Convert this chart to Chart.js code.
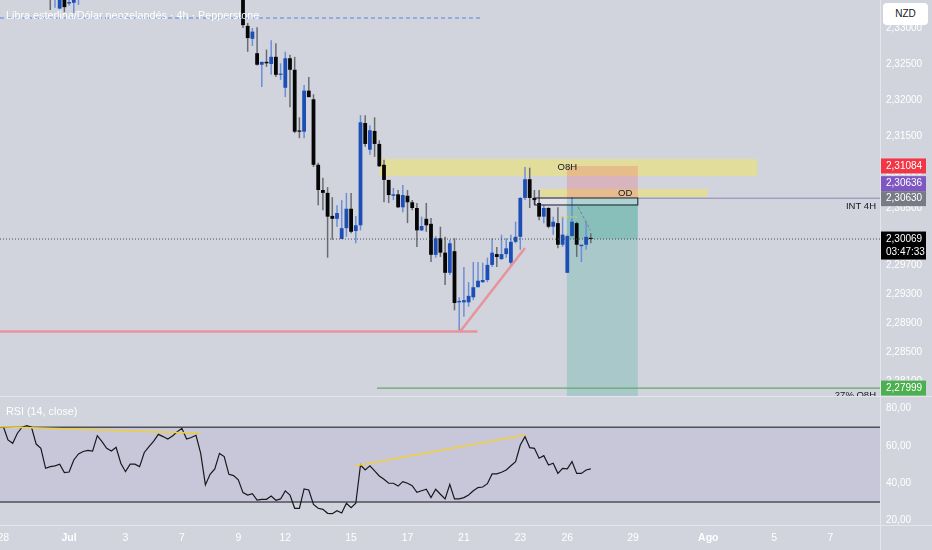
<!DOCTYPE html>
<html lang="es">
<head>
<meta charset="utf-8">
<title>GBP/NZD 4h</title>
<script src="https://cdn.jsdelivr.net/npm/chart.js@4.4.1/dist/chart.umd.min.js"></script>
<style>
  html, body { margin: 0; padding: 0; background: #d1d4dc; }
  #wrap { position: relative; width: 932px; height: 550px; overflow: hidden; background: #d1d4dc;
          font-family: "Liberation Sans", Arial, sans-serif; }
  #mainPane { position: absolute; left: 0; top: 0; }
  #rsiPane { position: absolute; left: 0; top: 397px; }
  #sep { position: absolute; left: 0; top: 396px; width: 932px; height: 1px; background: #e4e6ec; }
  .legend { position: absolute; left: 6px; color: #fff; font-size: 10.8px; white-space: nowrap; }
  #title { top: 9px; }
  #rsiTitle { top: 405px; }
  #currency { position: absolute; left: 883px; top: 3px; width: 45px; height: 22px; background: #fff;
              border-radius: 4px; color: #131722; font-size: 10px; line-height: 22px; text-align: center; }
</style>
</head>
<body>
<div id="wrap">
  <div id="mainPane"><canvas id="mainChart" width="932" height="396"></canvas></div>
  <div id="sep"></div>
  <div id="rsiPane"><canvas id="rsiChart" width="932" height="153"></canvas></div>
  <div id="title" class="legend">Libra esterlina/Dólar neozelandés · 4h · Pepperstone</div>
  <div id="rsiTitle" class="legend">RSI (14, close)</div>
  <div id="currency">NZD</div>
</div>
<script>
// Velas de 4h GBP/NZD (índice 0 = primera vela a la izquierda)
const opens = [
  2.3402, 2.3395, 2.3380, 2.3377, 2.3392, 2.3402, 2.3408, 2.3403, 2.3385, 2.3378,
  2.3350, 2.3346, 2.3327, 2.3356, 2.3334, 2.3335, 2.3352, 2.3362, 2.3366, 2.3368,
  2.3366, 2.3392, 2.3384, 2.3375, 2.3371, 2.3378, 2.3356, 2.3345, 2.3356, 2.3356,
  2.3352, 2.3370, 2.3380, 2.3392, 2.3405, 2.3400, 2.3395, 2.3403, 2.3412, 2.3420,
  2.3402, 2.3405, 2.3410, 2.3385, 2.3350, 2.3362, 2.3368, 2.3385, 2.3380, 2.3362,
  2.3360, 2.3354, 2.3303, 2.3285, 2.3265, 2.3249, 2.3253, 2.3250, 2.3260, 2.3235,
  2.3217, 2.3258, 2.3242, 2.3157, 2.3156, 2.3213, 2.3201, 2.3110, 2.3075, 2.3071,
  2.3039, 2.3035, 2.3007, 2.3022, 2.3049, 2.3018, 2.3026, 2.3168, 2.3131, 2.3157,
  2.3139, 2.3110, 2.3089, 2.3067, 2.3069, 2.3051, 2.3067, 2.3058, 2.3050, 2.3019,
  2.3035, 2.3028, 2.2985, 2.3008, 2.2988, 2.2960, 2.2990, 2.2919, 2.2919, 2.2919,
  2.2926, 2.2940, 2.2947, 2.2950, 2.2971, 2.2986, 2.2979, 2.2986, 2.2974, 2.3003,
  2.3010, 2.3064, 2.3090, 2.3064, 2.3057, 2.3038, 2.3050, 2.3024, 2.3029, 2.2999,
  2.2960, 2.3011, 2.3029, 2.2997, 2.2999, 2.3008
];
const highs = [
  2.3406, 2.3398, 2.3384, 2.3395, 2.3406, 2.3412, 2.3410, 2.3405, 2.3389, 2.3380,
  2.3358, 2.3356, 2.3360, 2.3358, 2.3340, 2.3356, 2.3365, 2.3370, 2.3372, 2.3371,
  2.3396, 2.3395, 2.3387, 2.3379, 2.3382, 2.3380, 2.3359, 2.3360, 2.3361, 2.3358,
  2.3374, 2.3384, 2.3395, 2.3408, 2.3408, 2.3403, 2.3406, 2.3415, 2.3424, 2.3422,
  2.3408, 2.3413, 2.3412, 2.3387, 2.3366, 2.3371, 2.3389, 2.3388, 2.3382, 2.3366,
  2.3363, 2.3358, 2.3307, 2.3300, 2.3301, 2.3253, 2.3270, 2.3283, 2.3279, 2.3251,
  2.3267, 2.3263, 2.3260, 2.3176, 2.3221, 2.3232, 2.3208, 2.3113, 2.3092, 2.3079,
  2.3065, 2.3054, 2.3061, 2.3071, 2.3071, 2.3039, 2.3179, 2.3179, 2.3165, 2.3176,
  2.3144, 2.3117, 2.3089, 2.3078, 2.3075, 2.3082, 2.3075, 2.3061, 2.3057, 2.3038,
  2.3057, 2.3036, 2.3011, 2.3024, 2.3010, 2.3006, 2.3008, 2.2926, 2.2968, 2.2947,
  2.2975, 2.2975, 2.2974, 2.2981, 2.3008, 2.2996, 2.3013, 2.3008, 2.3013, 2.3031,
  2.3065, 2.3107, 2.3106, 2.3075, 2.3075, 2.3054, 2.3051, 2.3038, 2.3051, 2.3038,
  2.3013, 2.3065, 2.3031, 2.2999, 2.3031, 2.3015
];
const lows = [
  2.3390, 2.3376, 2.3372, 2.3374, 2.3389, 2.3399, 2.3398, 2.3381, 2.3372, 2.3345,
  2.3325, 2.3328, 2.3326, 2.3322, 2.3331, 2.3321, 2.3332, 2.3356, 2.3360, 2.3361,
  2.3363, 2.3380, 2.3372, 2.3367, 2.3368, 2.3352, 2.3342, 2.3343, 2.3351, 2.3348,
  2.3350, 2.3367, 2.3377, 2.3389, 2.3396, 2.3391, 2.3392, 2.3400, 2.3409, 2.3398,
  2.3399, 2.3402, 2.3382, 2.3342, 2.3347, 2.3358, 2.3365, 2.3376, 2.3358, 2.3356,
  2.3350, 2.3300, 2.3267, 2.3275, 2.3248, 2.3218, 2.3246, 2.3235, 2.3232, 2.3228,
  2.3204, 2.3190, 2.3154, 2.3147, 2.3147, 2.3204, 2.3107, 2.3054, 2.3047, 2.2981,
  2.3006, 2.3024, 2.3007, 2.3010, 2.3015, 2.3001, 2.3019, 2.3135, 2.3124, 2.3121,
  2.3107, 2.3058, 2.3057, 2.3061, 2.3050, 2.3044, 2.3029, 2.3047, 2.2996, 2.3018,
  2.3017, 2.2975, 2.2981, 2.2982, 2.2943, 2.2957, 2.2908, 2.2879, 2.2899, 2.2913,
  2.2922, 2.2940, 2.2946, 2.2947, 2.2968, 2.2968, 2.2978, 2.2981, 2.2971, 2.3001,
  2.2992, 2.3061, 2.3050, 2.3054, 2.3033, 2.3029, 2.3022, 2.3013, 2.2994, 2.2996,
  2.2960, 2.3010, 2.2982, 2.2975, 2.2992, 2.3001
];
const closes = [
  2.3395, 2.3380, 2.3377, 2.3392, 2.3402, 2.3408, 2.3403, 2.3385, 2.3378, 2.3350,
  2.3346, 2.3353, 2.3356, 2.3329, 2.3336, 2.3352, 2.3362, 2.3366, 2.3368, 2.3366,
  2.3392, 2.3384, 2.3375, 2.3371, 2.3378, 2.3356, 2.3345, 2.3356, 2.3356, 2.3352,
  2.3370, 2.3380, 2.3392, 2.3405, 2.3400, 2.3395, 2.3403, 2.3412, 2.3420, 2.3402,
  2.3405, 2.3410, 2.3385, 2.3350, 2.3362, 2.3368, 2.3385, 2.3380, 2.3362, 2.3360,
  2.3354, 2.3304, 2.3286, 2.3295, 2.3249, 2.3253, 2.3251, 2.3260, 2.3235, 2.3236,
  2.3258, 2.3242, 2.3156, 2.3156, 2.3213, 2.3204, 2.3110, 2.3075, 2.3071, 2.3038,
  2.3035, 2.3043, 2.3022, 2.3049, 2.3017, 2.3026, 2.3169, 2.3139, 2.3158, 2.3139,
  2.3108, 2.3089, 2.3068, 2.3069, 2.3051, 2.3068, 2.3058, 2.3050, 2.3019, 2.3025,
  2.3026, 2.2985, 2.3008, 2.2988, 2.2960, 2.3001, 2.2918, 2.2921, 2.2922, 2.2928,
  2.2940, 2.2949, 2.2950, 2.2971, 2.2988, 2.2982, 2.2986, 2.2994, 2.3003, 2.3010,
  2.3064, 2.3090, 2.3064, 2.3061, 2.3038, 2.3050, 2.3024, 2.3031, 2.2999, 2.3013,
  2.3011, 2.3031, 2.2999, 2.2999, 2.3010, 2.30069
];
const rsiValues = [
  70.4, 63.2, 61.4, 66.8, 70.0, 70.9, 70.0, 61.0, 58.7, 48.0,
  48.9, 49.3, 50.2, 45.7, 46.0, 52.5, 55.7, 57.0, 57.6, 57.2,
  65.5, 62.3, 58.7, 57.3, 59.3, 50.7, 46.2, 50.2, 50.2, 48.9,
  56.5, 59.6, 62.6, 66.2, 65.0, 63.7, 65.3, 67.6, 69.4, 63.7,
  64.5, 65.7, 56.0, 39.1, 44.8, 47.7, 56.0, 54.3, 44.8, 44.1,
  41.8, 35.0, 33.7, 34.4, 31.0, 31.4, 31.4, 33.2, 30.9, 31.6,
  35.9, 33.7, 26.6, 26.6, 37.0, 36.4, 28.7, 26.6, 26.0, 23.9,
  23.7, 25.3, 24.1, 29.3, 26.9, 29.3, 49.8, 47.1, 49.3, 46.6,
  43.9, 42.1, 40.0, 40.0, 38.5, 40.9, 40.0, 38.7, 35.2, 36.0,
  36.8, 32.3, 36.8, 34.1, 31.6, 39.4, 31.6, 31.6, 32.3, 33.7,
  36.0, 37.7, 38.0, 39.8, 45.0, 45.0, 45.9, 47.1, 49.4, 51.6,
  60.5, 65.0, 59.1, 58.7, 53.4, 54.8, 49.8, 50.7, 45.3, 48.0,
  47.7, 51.6, 45.3, 45.3, 47.1, 47.7
];

// Eje de tiempo: índice de vela -> etiqueta
const timeTickIdx = [0, 14, 26, 38, 50, 60, 74, 86, 98, 110, 120, 134, 150, 164, 176];
const timeTickLabels = ['28', 'Jul', '3', '7', '9', '12', '15', '17', '21', '23', '26', '29', 'Ago', '5', '7'];
const priceTicks = [2.330, 2.325, 2.320, 2.315, 2.310, 2.305, 2.301, 2.297, 2.293, 2.289, 2.285, 2.281];
const rsiTicks = [20, 40, 60, 80];

// Precios marcados en el eje
const lastPrice = 2.30069;
const stopPrice = 2.31084;
const intPrice = 2.30636;
const entryPrice = 2.30630;
const targetPrice = 2.27999;
const countdown = '03:47:33';

// Dibujos (índice de vela / precio)
const zoneO8H = { from: 80, to: 160.4, top: 2.31181, bottom: 2.30944, label: 'O8H', labelAt: 120 };
const zoneOD = { from: 114.2, to: 149.9, top: 2.30764, bottom: 2.30653, label: 'OD', labelAt: 132.3 };
const boxInt = { from: 113.1, to: 135, top: 2.30639, bottom: 2.30542 };
const shortPos = { from: 119.9, to: 135, stop: stopPrice, entry: entryPrice, target: 2.2785 };
const blueDash = { from: -0.7, to: 102, price: 2.33139 };
const supportLine = { from: -0.7, to: 100.9, price: 2.28785 };
const trendLine = { x0: 97.2, p0: 2.28785, x1: 111, p1: 2.29945 };
const targetLine = { from: 79.5, price: targetPrice };
const rsiTrend1 = { x0: -0.7, v0: 70.3, x1: 41.8, v1: 66.8 };
const rsiTrend2 = { x0: 74.8, v0: 49.3, x1: 111, v1: 65.9 };

// Ventana visible
const X_MIN = -0.7, X_MAX = 186.53;
const PRICE_MAX = 2.33389, PRICE_MIN = 2.27889;
const RSI_MAX = 86.2, RSI_MIN = 17.65;

const AXIS_FONT = '"Liberation Sans", Arial, sans-serif';
const SEP_COLOR = '#e4e6ec';
const fmtPrice = v => v.toFixed(5).replace('.', ',');

const idx = opens.map((_, i) => i);
const isUp = idx.map(i => closes[i] >= opens[i]);
const bodyColors = isUp.map(u => u ? '#1d4eb5' : '#060606');
const wickColors = isUp.map(u => u ? '#6d8ed4' : '#696b73');

// quitar los márgenes automáticos que añade Chart.js a cada eje
function noPad(s) { s.paddingLeft = 0; s.paddingRight = 0; s.paddingTop = 0; s.paddingBottom = 0; }

function seg(ctx, x0, y0, x1, y1, color, width, dash) {
  ctx.beginPath();
  ctx.setLineDash(dash || []);
  ctx.strokeStyle = color;
  ctx.lineWidth = width;
  ctx.moveTo(x0, y0);
  ctx.lineTo(x1, y1);
  ctx.stroke();
  ctx.setLineDash([]);
}

const mainDrawings = {
  id: 'mainDrawings',
  beforeDatasetsDraw(chart) {
    const { ctx, chartArea: a } = chart;
    const x = v => chart.scales.x.getPixelForValue(v);
    const y = v => chart.scales.y.getPixelForValue(v);
    const rect = (z, color) => {
      ctx.fillStyle = color;
      ctx.fillRect(x(z.from), y(z.top), x(z.to) - x(z.from), y(z.bottom) - y(z.top));
    };
    ctx.save();
    ctx.beginPath(); ctx.rect(a.left, a.top, a.right - a.left, a.bottom - a.top); ctx.clip();
    rect(zoneO8H, 'rgba(255, 235, 59, 0.4)');
    rect(zoneOD, 'rgba(255, 235, 59, 0.4)');
    // posición corta: zona de stop y zona de objetivo
    rect({ from: shortPos.from, to: shortPos.to, top: shortPos.stop, bottom: shortPos.entry }, 'rgba(242, 54, 69, 0.2)');
    rect({ from: shortPos.from, to: shortPos.to, top: shortPos.entry, bottom: shortPos.target }, 'rgba(8, 153, 129, 0.2)');
    rect({ from: shortPos.from, to: shortPos.to, top: shortPos.entry, bottom: lastPrice }, 'rgba(8, 153, 129, 0.2)');
    rect(boxInt, 'rgba(255, 255, 255, 0.3)');
    ctx.restore();
  },
  afterDatasetsDraw(chart) {
    const { ctx, chartArea: a } = chart;
    const x = v => chart.scales.x.getPixelForValue(v);
    const y = v => chart.scales.y.getPixelForValue(v);
    ctx.save();
    ctx.beginPath(); ctx.rect(a.left, a.top, a.right - a.left, a.bottom - a.top); ctx.clip();

    seg(ctx, x(blueDash.from), y(blueDash.price), x(blueDash.to), y(blueDash.price), '#4f84ea', 1, [4, 3]);
    seg(ctx, x(supportLine.from), y(supportLine.price), x(supportLine.to), y(supportLine.price), '#e8939c', 2.5);
    seg(ctx, x(trendLine.x0), y(trendLine.p0), x(trendLine.x1), y(trendLine.p1), '#e8939c', 2.5);
    seg(ctx, x(targetLine.from), y(targetLine.price), a.right, y(targetLine.price), '#62a86a', 1.2);
    seg(ctx, x(boxInt.to), y(intPrice), a.right, y(intPrice), '#8b85b5', 1);
    seg(ctx, a.left, y(lastPrice), a.right, y(lastPrice), '#4a4b52', 1, [1, 2]);

    // pequeños trazos discontinuos junto a la caja
    seg(ctx, x(118.5), y(2.30375), x(122), y(2.30375), '#e8d24a', 1, [3, 2]);
    seg(ctx, x(122.3), y(2.30514), x(124.9), y(2.30194), '#7a7c84', 1, [3, 2]);

    ctx.strokeStyle = '#1a1a2e';
    ctx.lineWidth = 1;
    ctx.strokeRect(x(boxInt.from), y(boxInt.top), x(boxInt.to) - x(boxInt.from), y(boxInt.bottom) - y(boxInt.top));

    ctx.fillStyle = '#131722';
    ctx.font = '9.5px ' + AXIS_FONT;
    ctx.textBaseline = 'middle';
    ctx.textAlign = 'center';
    ctx.fillText(zoneO8H.label, x(zoneO8H.labelAt), y(zoneO8H.top) + 8);
    ctx.fillText(zoneOD.label, x(zoneOD.labelAt), y(zoneOD.top) + 4);
    ctx.textAlign = 'right';
    ctx.fillText('INT 4H', a.right - 4, y(intPrice) + 8);
    ctx.fillText('27% O8H', a.right - 4, y(targetLine.price) + 7);
    ctx.restore();
  },
  afterDraw(chart) {
    const { ctx, chartArea: a } = chart;
    const y = v => chart.scales.y.getPixelForValue(v);
    const tag = (yc, bg, lines) => {
      ctx.fillStyle = bg;
      ctx.fillRect(a.right + 1, yc - 7.5, 45, 15 + (lines.length - 1) * 13);
      ctx.fillStyle = '#ffffff';
      ctx.font = '10px ' + AXIS_FONT;
      ctx.textAlign = 'left';
      ctx.textBaseline = 'middle';
      lines.forEach((t, k) => ctx.fillText(t, a.right + 6, yc + k * 13));
    };
    ctx.save();
    const yEntry = y(entryPrice);
    tag(y(stopPrice), '#f23645', [fmtPrice(stopPrice)]);
    tag(yEntry - 15, '#7e57c2', [fmtPrice(intPrice)]);
    tag(yEntry, '#787b86', [fmtPrice(entryPrice)]);
    tag(y(lastPrice), '#000000', [fmtPrice(lastPrice), countdown]);
    tag(y(targetPrice), '#4caf50', [fmtPrice(targetPrice)]);
    seg(ctx, a.right + 0.5, 0, a.right + 0.5, chart.height, SEP_COLOR, 1);
    ctx.restore();
  }
};

const rsiDrawings = {
  id: 'rsiDrawings',
  beforeDatasetsDraw(chart) {
    const { ctx, chartArea: a } = chart;
    const y = v => chart.scales.y.getPixelForValue(v);
    ctx.save();
    ctx.fillStyle = 'rgba(126, 87, 194, 0.1)';
    ctx.fillRect(a.left, y(70), a.right - a.left, y(30) - y(70));
    seg(ctx, a.left, y(70), a.right, y(70), '#4e5059', 1.5);
    seg(ctx, a.left, y(30), a.right, y(30), '#4e5059', 1.5);
    ctx.restore();
  },
  afterDatasetsDraw(chart) {
    const { ctx, chartArea: a } = chart;
    const x = v => chart.scales.x.getPixelForValue(v);
    const y = v => chart.scales.y.getPixelForValue(v);
    ctx.save();
    ctx.beginPath(); ctx.rect(a.left, a.top, a.right - a.left, a.bottom - a.top); ctx.clip();
    seg(ctx, x(rsiTrend1.x0), y(rsiTrend1.v0), x(rsiTrend1.x1), y(rsiTrend1.v1), '#f0cf3c', 1.5);
    seg(ctx, x(rsiTrend2.x0), y(rsiTrend2.v0), x(rsiTrend2.x1), y(rsiTrend2.v1), '#f0cf3c', 1.5);
    ctx.restore();
  },
  afterDraw(chart) {
    const { ctx, chartArea: a } = chart;
    ctx.save();
    seg(ctx, 0, a.bottom + 0.5, chart.width, a.bottom + 0.5, SEP_COLOR, 1);
    seg(ctx, a.right + 0.5, 0, a.right + 0.5, chart.height, SEP_COLOR, 1);
    ctx.restore();
  }
};

// Gráfico principal: velas como barras flotantes (mecha + cuerpo)
new Chart(document.getElementById('mainChart'), {
  type: 'bar',
  data: {
    datasets: [
      {
        label: 'mecha',
        data: idx.map(i => ({ x: i, y: [lows[i], highs[i]] })),
        backgroundColor: wickColors,
        barThickness: 1.5,
        inflateAmount: 0,
        grouped: false,
        order: 2
      },
      {
        label: 'cuerpo',
        data: idx.map(i => ({ x: i, y: [opens[i], closes[i]] })),
        backgroundColor: bodyColors,
        barThickness: 3.8,
        minBarLength: 1.2,
        inflateAmount: 0,
        grouped: false,
        order: 1
      }
    ]
  },
  options: {
    responsive: false,
    animation: false,
    layout: { padding: 0 },
    plugins: { legend: { display: false }, tooltip: { enabled: false } },
    scales: {
      x: { type: 'linear', min: X_MIN, max: X_MAX, offset: false, display: false },
      y: {
        position: 'right',
        min: PRICE_MIN,
        max: PRICE_MAX,
        grid: { display: false, drawTicks: false },
        border: { display: false },
        afterFit(s) { s.width = 52; noPad(s); },
        afterBuildTicks(s) { s.ticks = priceTicks.map(v => ({ value: v })); },
        ticks: {
          autoSkip: false,
          color: '#ffffff',
          padding: 6,
          font: { family: AXIS_FONT, size: 10 },
          callback: v => fmtPrice(v)
        }
      }
    }
  },
  plugins: [mainDrawings]
});

// Panel RSI con el eje de tiempo
new Chart(document.getElementById('rsiChart'), {
  type: 'line',
  data: {
    datasets: [{
      label: 'RSI',
      data: idx.map(i => ({ x: i, y: rsiValues[i] })),
      borderColor: '#18181c',
      borderWidth: 1.2,
      pointRadius: 0,
      tension: 0
    }]
  },
  options: {
    responsive: false,
    animation: false,
    layout: { padding: 0 },
    plugins: { legend: { display: false }, tooltip: { enabled: false } },
    scales: {
      x: {
        type: 'linear',
        min: X_MIN,
        max: X_MAX,
        grid: { display: false, drawTicks: false },
        border: { display: false },
        afterFit(s) { s.height = 25; noPad(s); },
        afterBuildTicks(s) { s.ticks = timeTickIdx.map(v => ({ value: v })); },
        ticks: {
          autoSkip: false,
          maxRotation: 0,
          color: '#ffffff',
          padding: 7,
          font: c => ({
            family: AXIS_FONT,
            size: 10.5,
            weight: (c.tick && isNaN(Number(c.tick.label))) ? 'bold' : 'normal'
          }),
          callback: v => timeTickLabels[timeTickIdx.indexOf(v)]
        }
      },
      y: {
        position: 'right',
        min: RSI_MIN,
        max: RSI_MAX,
        grid: { display: false, drawTicks: false },
        border: { display: false },
        afterFit(s) { s.width = 52; noPad(s); },
        afterBuildTicks(s) { s.ticks = rsiTicks.map(v => ({ value: v })); },
        ticks: {
          autoSkip: false,
          color: '#ffffff',
          padding: 6,
          font: { family: AXIS_FONT, size: 10 },
          callback: v => v.toFixed(2).replace('.', ',')
        }
      }
    }
  },
  plugins: [rsiDrawings]
});
</script>
</body>
</html>
